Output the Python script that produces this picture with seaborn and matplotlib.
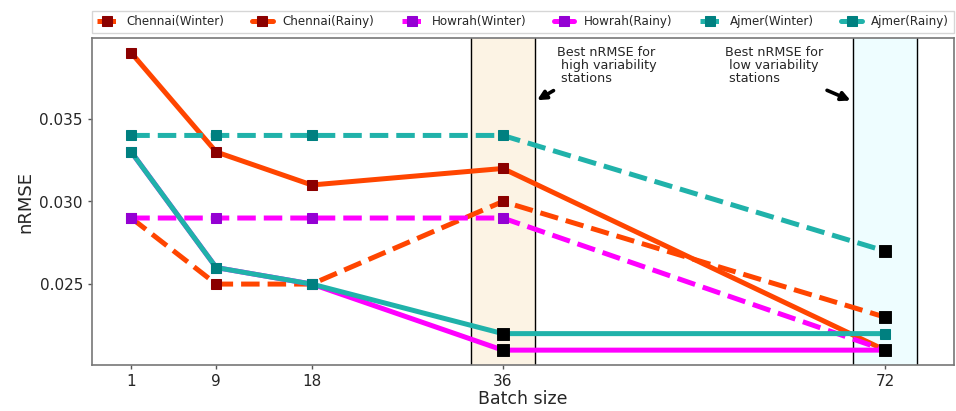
import matplotlib
matplotlib.use("Agg")
import matplotlib.pyplot as plt
import seaborn as sns
import pandas as pd

batch_sizes = [1, 9, 18, 36, 72]
chennai_winter = [0.029, 0.025, 0.025, 0.030, 0.023]
chennai_rainy = [0.039, 0.033, 0.031, 0.032, 0.021]
howrah_winter = [0.029, 0.029, 0.029, 0.029, 0.021]
howrah_rainy = [0.033, 0.026, 0.025, 0.021, 0.021]
ajmer_winter = [0.034, 0.034, 0.034, 0.034, 0.027]
ajmer_rainy = [0.033, 0.026, 0.025, 0.022, 0.022]

best_x = [36, 36, 72, 72, 72]
best_y = [0.022, 0.021, 0.027, 0.023, 0.021]

sns.set_theme(style="white")
plt.rcParams['font.family'] = ['DejaVu Sans']

fig = plt.figure(figsize=(9.56, 4.11), dpi=100)
ax = fig.add_axes([92/956, 1-365/411, (954-92)/956, (365-38)/411])

series = [
    ("Chennai(Winter)", chennai_winter, "orangered", "darkred", "--"),
    ("Chennai(Rainy)", chennai_rainy, "orangered", "darkred", "-"),
    ("Howrah(Winter)", howrah_winter, "magenta", "darkviolet", "--"),
    ("Howrah(Rainy)", howrah_rainy, "magenta", "darkviolet", "-"),
    ("Ajmer(Winter)", ajmer_winter, "lightseagreen", "teal", "--"),
    ("Ajmer(Rainy)", ajmer_rainy, "lightseagreen", "teal", "-"),
]

ax.axvspan(33, 39, color="#FCF3E4", zorder=0)
ax.axvspan(69, 75, color="#EEFDFF", zorder=0)
for xv in [33, 39, 69, 75]:
    ax.axvline(xv, color="black", lw=1.0, zorder=1)

for name, vals, lc, mc, ls in series:
    df = pd.DataFrame({"x": batch_sizes, "y": vals})
    sns.lineplot(data=df, x="x", y="y", ax=ax, color=lc, linestyle=ls, lw=3.6,
                 marker="s", markersize=7.5, markerfacecolor=mc, markeredgecolor=mc,
                 label=name, zorder=3)

sns.scatterplot(x=best_x, y=best_y, ax=ax, marker="s", color="black", s=65,
                edgecolor="black", zorder=6)

ax.set_xlim(-2.7, 78.5)
ax.set_ylim(0.0201, 0.0399)
ax.set_xticks(batch_sizes)
ax.set_xticklabels([str(b) for b in batch_sizes])
ax.set_yticks([0.025, 0.030, 0.035])
ax.set_yticklabels(["0.025", "0.030", "0.035"])
ax.tick_params(axis="both", labelsize=11, length=3, width=1, color="#555555",
               bottom=True, left=True)
ax.set_xlabel("Batch size", fontsize=12.5, labelpad=1)
ax.set_ylabel("nRMSE", fontsize=13, labelpad=4)
for sp in ax.spines.values():
    sp.set_color("#777777")
    sp.set_linewidth(1.2)

ax.annotate("", xy=(39.0, 0.03605), xytext=(41.0, 0.0368),
            arrowprops=dict(arrowstyle="-|>", color="black", lw=2.6, mutation_scale=13))
ax.text(41.1, 0.0394, "Best nRMSE for\n high variability\n stations", fontsize=9.2,
        va="top", ha="left", linespacing=1.0)
ax.annotate("", xy=(69.0, 0.03605), xytext=(66.3, 0.0368),
            arrowprops=dict(arrowstyle="-|>", color="black", lw=2.6, mutation_scale=13))
ax.text(56.9, 0.0394, "Best nRMSE for\n low variability\n stations", fontsize=9.2,
        va="top", ha="left", linespacing=1.0)

handles, labels = ax.get_legend_handles_labels()
leg = ax.legend(handles[:6], labels[:6], loc="lower left", bbox_to_anchor=(0, 1.015, 1, 0.1),
                mode="expand", ncol=6, fontsize=8.6, frameon=True, handlelength=1.7,
                borderaxespad=0, handletextpad=0.8, fancybox=False, edgecolor="#cccccc")

fig.savefig("out.png", dpi=100)
